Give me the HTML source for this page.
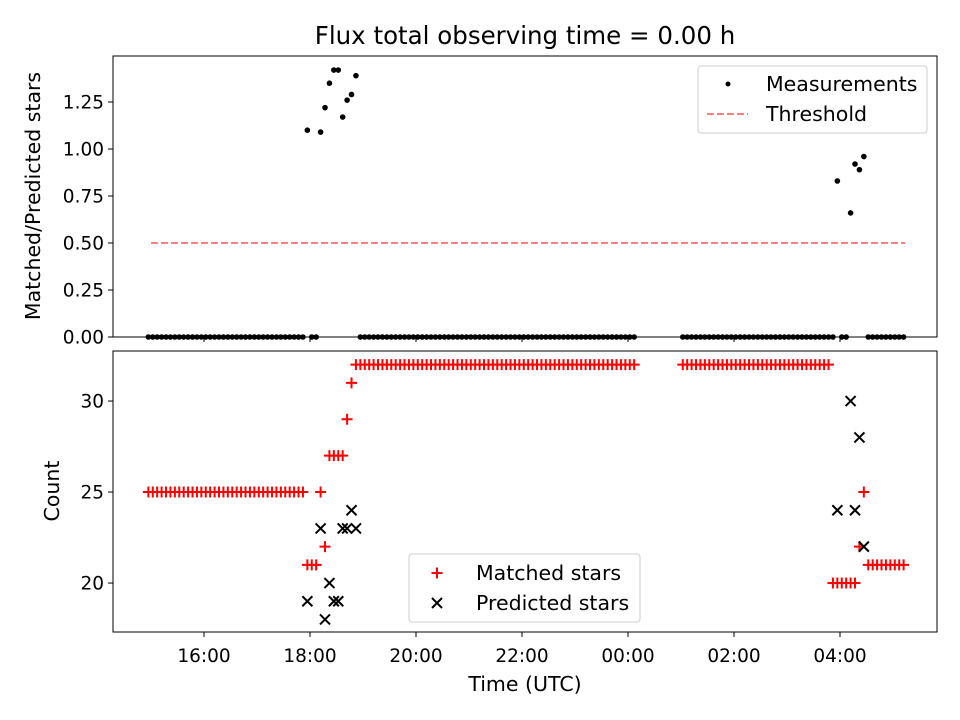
<!DOCTYPE html>
<html><head><meta charset="utf-8"><style>
html,body{margin:0;padding:0;background:#fff;}
svg{display:block;font-family:"DejaVu Sans","Liberation Sans",sans-serif;}
</style></head><body>
<svg id="chart" width="960" height="720" viewBox="0 0 960 720" xmlns="http://www.w3.org/2000/svg">
<text x="525" y="44" text-anchor="middle" font-size="24.5">Flux total observing time = 0.00 h</text>
<text transform="translate(40,196) rotate(-90)" text-anchor="middle" font-size="20.5">Matched/Predicted stars</text>
<text transform="translate(59,491) rotate(-90)" text-anchor="middle" font-size="20.5">Count</text>
<text x="525" y="691" text-anchor="middle" font-size="20.5">Time (UTC)</text>
<g id="top"></g>
<g id="bot"></g>
</svg>
<script>
const tickHours = [16, 18, 20, 22, 24, 26, 28];
const tickLabels = ["16:00", "18:00", "20:00", "22:00", "00:00", "02:00", "04:00"];
const topTicks = [0, 0.25, 0.5, 0.75, 1.0, 1.25];
const topTickLabels = ["0.00", "0.25", "0.50", "0.75", "1.00", "1.25"];
const botTicks = [20, 25, 30];
const botTickLabels = ["20", "25", "30"];
const sampleIndex = [];
for (let i = 0; i <= 110; i++) sampleIndex.push(i);
for (let i = 121; i <= 171; i++) sampleIndex.push(i);
const startHour = 14.95;
const cadenceMin = 5;
const threshold = 0.5;
const thresholdRange = [15.0, 29.23];
const ratio = [
0,0,0,0,0,0,0,0,0,0,0,0,0,0,0,0,0,0,0,0,0,0,0,0,0,0,0,0,0,0,0,0,0,0,0,0,
1.10,0,0,1.09,1.22,1.35,1.42,1.42,1.17,1.26,1.29,1.39,
0,0,0,0,0,0,0,0,0,0,0,0,0,0,0,0,0,0,0,0,0,0,0,0,0,0,0,0,0,0,0,0,0,0,0,0,0,0,0,0,0,0,0,0,0,0,0,0,0,0,0,0,0,0,0,0,0,0,0,0,0,0,0,
0,0,0,0,0,0,0,0,0,0,0,0,0,0,0,0,0,0,0,0,0,0,0,0,0,0,0,0,0,0,0,0,0,0,
0,0.83,0,0,0.66,0.92,0.89,0.96,0,0,0,0,0,0,0,0,0
];
const matched = [
25,25,25,25,25,25,25,25,25,25,25,25,25,25,25,25,25,25,25,25,25,25,25,25,25,25,25,25,25,25,25,25,25,25,25,25,
21,21,21,25,22,27,27,27,27,29,31,32,
32,32,32,32,32,32,32,32,32,32,32,32,32,32,32,32,32,32,32,32,32,32,32,32,32,32,32,32,32,32,32,32,32,32,32,32,32,32,32,32,32,32,32,32,32,32,32,32,32,32,32,32,32,32,32,32,32,32,32,32,32,32,32,
32,32,32,32,32,32,32,32,32,32,32,32,32,32,32,32,32,32,32,32,32,32,32,32,32,32,32,32,32,32,32,32,32,32,
20,20,20,20,20,20,22,25,21,21,21,21,21,21,21,21,21
];
const N = null;
const predicted = [
N,N,N,N,N,N,N,N,N,N,N,N,N,N,N,N,N,N,N,N,N,N,N,N,N,N,N,N,N,N,N,N,N,N,N,N,
19,N,N,23,18,20,19,19,23,23,24,23,
N,N,N,N,N,N,N,N,N,N,N,N,N,N,N,N,N,N,N,N,N,N,N,N,N,N,N,N,N,N,N,N,N,N,N,N,N,N,N,N,N,N,N,N,N,N,N,N,N,N,N,N,N,N,N,N,N,N,N,N,N,N,N,
N,N,N,N,N,N,N,N,N,N,N,N,N,N,N,N,N,N,N,N,N,N,N,N,N,N,N,N,N,N,N,N,N,N,
N,24,N,N,30,24,28,22,N,N,N,N,N,N,N,N,N
];

const NS = "http://www.w3.org/2000/svg";
const L = 113, R = 937;
const TOP = {y0: 56, y1: 337, lo: 0, hi: 1.4947};
const BOT = {y0: 351, y1: 632, lo: 17.31, hi: 32.75};
function xs(h) { return 204 + (h - 16) * 53; }
function ys(p, v) { return p.y1 - (v - p.lo) / (p.hi - p.lo) * (p.y1 - p.y0); }
function timeOf(k) { return startHour + sampleIndex[k] * cadenceMin / 60; }
function mk(tag, attrs, parent) {
  const e = document.createElementNS(NS, tag);
  for (const k in attrs) e.setAttribute(k, attrs[k]);
  parent.appendChild(e);
  return e;
}
const gt = document.getElementById('top');
const gb = document.getElementById('bot');

function frame(g, p, name, ticks, labels) {
  const r = mk('rect', {x: L, y: p.y0, width: R - L, height: p.y1 - p.y0, fill: 'none', stroke: '#000', 'stroke-width': 1}, g);
  
  
  tickHours.forEach((h, i) => {
    const x = xs(h);
    const t = mk('line', {x1: x, x2: x, y1: p.y1, y2: p.y1 + 5, stroke: '#000', 'stroke-width': 1}, g);
    
    
  });
  ticks.forEach((v, i) => {
    const y = ys(p, v);
    const t = mk('line', {x1: L - 5, x2: L, y1: y, y2: y, stroke: '#000', 'stroke-width': 1}, g);
    
    
    const tx = mk('text', {x: L - 9, y: y + 6.5, 'text-anchor': 'end', 'font-size': '18.5'}, g);
    tx.textContent = labels[i];
    
    
  });
}
frame(gt, TOP, 'top', topTicks, topTickLabels);
frame(gb, BOT, 'bottom', botTicks, botTickLabels);
tickHours.forEach((h, i) => {
  const tx = mk('text', {x: xs(h), y: 662, 'text-anchor': 'middle', 'font-size': '18.5'}, gb);
  tx.textContent = tickLabels[i];
  
  
});

const th = mk('line', {x1: xs(thresholdRange[0]), x2: xs(thresholdRange[1]), y1: ys(TOP, threshold), y2: ys(TOP, threshold), stroke: '#ff7f7f', 'stroke-width': 2, 'stroke-dasharray': '7,3'}, gt);



ratio.forEach((v, k) => {
  const c = mk('circle', {cx: xs(timeOf(k)), cy: ys(TOP, v), r: 2.8, fill: '#000'}, gt);
  
  
});

function plus(g, x, y) {
  return mk('path', {d: `M${x-5.5},${y}H${x+5.5}M${x},${y-5.5}V${y+5.5}`, stroke: '#ff0000', 'stroke-width': 2, fill: 'none'}, g);
}
function cross(g, x, y) {
  return mk('path', {d: `M${x-5},${y-5}L${x+5},${y+5}M${x-5},${y+5}L${x+5},${y-5}`, stroke: '#000', 'stroke-width': 2, fill: 'none'}, g);
}
matched.forEach((v, k) => {
  if (v == null) return;
  const p = plus(gb, xs(timeOf(k)), ys(BOT, v));
  
  
});
predicted.forEach((v, k) => {
  if (v == null) return;
  const p = cross(gb, xs(timeOf(k)), ys(BOT, v));
  
  
});

const lt = mk('g', {}, gt);


mk('rect', {x: 698, y: 66, width: 229, height: 67, rx: 3, fill: '#fff', stroke: '#ccc', 'stroke-width': 1}, lt);
mk('circle', {cx: 728, cy: 84, r: 2.5, fill: '#000'}, lt);
let t1 = mk('text', {x: 766, y: 91, 'font-size': '20.5'}, lt); t1.textContent = 'Measurements';


mk('line', {x1: 707, x2: 748, y1: 114, y2: 114, stroke: '#ff7f7f', 'stroke-width': 2, 'stroke-dasharray': '7,3'}, lt);
let t2 = mk('text', {x: 766, y: 121, 'font-size': '20.5'}, lt); t2.textContent = 'Threshold';



const lb = mk('g', {}, gb);


mk('rect', {x: 409, y: 554, width: 231, height: 68, rx: 3, fill: '#fff', stroke: '#ccc', 'stroke-width': 1}, lb);
plus(lb, 437, 573);
let t3 = mk('text', {x: 476, y: 580, 'font-size': '20.5'}, lb); t3.textContent = 'Matched stars';


cross(lb, 437, 603);
let t4 = mk('text', {x: 476, y: 610, 'font-size': '20.5'}, lb); t4.textContent = 'Predicted stars';


</script>
</body></html>
